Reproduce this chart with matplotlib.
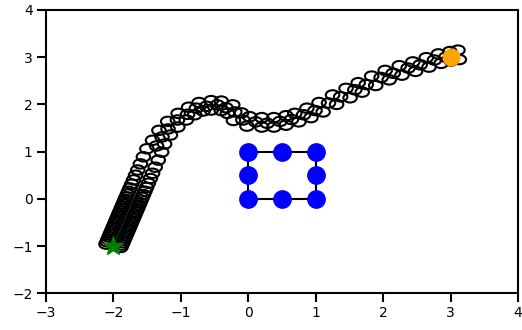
import matplotlib
matplotlib.use("Agg")
import matplotlib.pyplot as plt
from matplotlib.patches import Circle

# ---- data ----
# trajectory circles: upper-left row, lower-right row and a middle row
upper_x = [-2.110, -2.095, -2.080, -2.065, -2.050, -2.035, -2.020, -2.005, -1.990, -1.975,
           -1.960, -1.945, -1.930, -1.915, -1.900, -1.885, -1.870, -1.855, -1.840, -1.825,
           -1.810, -1.792, -1.774, -1.753, -1.729, -1.702, -1.672, -1.639, -1.600, -1.555,
           -1.504, -1.420, -1.325, -1.195, -1.040, -0.885, -0.730, -0.550, -0.400, -0.230,
           -0.100, 0.020, 0.200, 0.380, 0.560, 0.690, 0.870, 1.050, 1.250, 1.450,
           1.630, 1.830, 2.030, 2.240, 2.440, 2.640, 2.820, 2.990, 3.110]
upper_y = [-0.96, -0.91, -0.86, -0.81, -0.76, -0.71, -0.66, -0.61, -0.56, -0.51,
           -0.46, -0.41, -0.36, -0.31, -0.26, -0.21, -0.16, -0.11, -0.06, -0.01,
           0.04, 0.10, 0.16, 0.23, 0.31, 0.40, 0.50, 0.61, 0.74, 0.89,
           1.06, 1.24, 1.45, 1.64, 1.81, 1.94, 2.04, 2.08, 2.07, 1.99,
           1.82, 1.74, 1.72, 1.72, 1.76, 1.81, 1.92, 2.04, 2.20, 2.34,
           2.46, 2.60, 2.72, 2.82, 2.90, 2.99, 3.07, 3.12, 3.15]
lower_x = [-1.890, -1.875, -1.860, -1.845, -1.830, -1.815, -1.800, -1.785, -1.770, -1.755,
           -1.740, -1.725, -1.710, -1.695, -1.680, -1.665, -1.650, -1.635, -1.620, -1.605,
           -1.590, -1.572, -1.554, -1.533, -1.509, -1.482, -1.452, -1.419, -1.380, -1.335,
           -1.284, -1.240, -1.155, -1.045, -0.920, -0.795, -0.670, -0.550, -0.400, -0.310,
           -0.220, -0.020, 0.200, 0.380, 0.560, 0.750, 0.930, 1.110, 1.310, 1.510,
           1.690, 1.890, 2.090, 2.280, 2.480, 2.680, 2.860, 3.010, 3.130]
lower_y = [-1.03, -0.98, -0.93, -0.88, -0.83, -0.78, -0.73, -0.68, -0.63, -0.58,
           -0.53, -0.48, -0.43, -0.38, -0.33, -0.28, -0.23, -0.18, -0.13, -0.08,
           -0.03, 0.03, 0.09, 0.16, 0.24, 0.33, 0.43, 0.54, 0.67, 0.82,
           0.99, 1.16, 1.35, 1.52, 1.67, 1.78, 1.86, 1.88, 1.87, 1.81,
           1.66, 1.54, 1.52, 1.52, 1.56, 1.63, 1.72, 1.84, 2.00, 2.14,
           2.26, 2.40, 2.52, 2.62, 2.70, 2.79, 2.87, 2.92, 2.95]
middle_x = [-1.36, -1.28, -1.19, -1.05, -0.90, -0.77, -0.62, -0.46, -0.33, -0.20,
            -0.08, 0.11, 0.28, 0.47, 0.64, 0.82, 0.99, 1.19, 1.37, 1.58,
            1.75, 1.97, 2.15, 2.37, 2.55, 2.76, 2.93]
middle_y = [1.12, 1.31, 1.48, 1.67, 1.79, 1.92, 1.96, 1.99, 1.93, 1.84,
            1.67, 1.63, 1.60, 1.64, 1.68, 1.78, 1.87, 2.03, 2.16, 2.31,
            2.42, 2.57, 2.66, 2.77, 2.84, 2.94, 3.00]

# square (corners + midpoints), drawn as closed outline
square_x = [0, 0.5, 1, 1, 1, 0.5, 0, 0, 0]
square_y = [0, 0, 0, 0.5, 1, 1, 1, 0.5, 0]

start_pt = (-2, -1)
goal_pt = (3, 3)

x_ticks = [-3, -2, -1, 0, 1, 2, 3, 4]
y_ticks = [-2, -1, 0, 1, 2, 3, 4]

# ---- figure ----
fig = plt.figure(figsize=(5.22, 3.30), dpi=100)
ax = fig.add_axes([0.0881, 0.1115, 0.9042, 0.8582])

circle_r = 0.1
for xs, ys in ((upper_x, upper_y), (lower_x, lower_y), (middle_x, middle_y)):
    for cx, cy in zip(xs, ys):
        ax.add_patch(Circle((cx, cy), circle_r, facecolor='none',
                            edgecolor='black', linewidth=1.5, zorder=2))

ax.plot(square_x, square_y, color='black', linewidth=1.5, zorder=3)
ax.plot(square_x[:-1], square_y[:-1], 'o', color='blue', markersize=12.5,
        linestyle='none', zorder=4)
ax.plot([start_pt[0]], [start_pt[1]], '*', color='green', markersize=15, zorder=5)
ax.plot([goal_pt[0]], [goal_pt[1]], 'o', color='orange', markersize=12, zorder=5)

ax.set_xlim(-3, 4)
ax.set_ylim(-2, 4)
ax.set_xticks(x_ticks)
ax.set_yticks(y_ticks)
ax.tick_params(length=6.5, width=1.5, labelsize=10, pad=3)
for s in ax.spines.values():
    s.set_linewidth(1.5)

fig.savefig("out.png", dpi=100)
